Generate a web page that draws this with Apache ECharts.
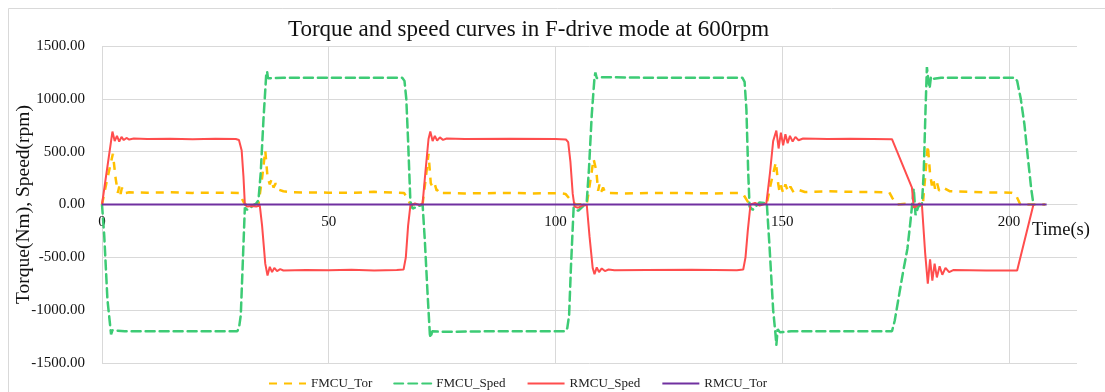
<!DOCTYPE html>
<html><head><meta charset="utf-8">
<script src="https://cdn.jsdelivr.net/npm/echarts@6/dist/echarts.min.js"></script>
<style>html,body{margin:0;padding:0;background:#fff}#c{width:1105px;height:392px}</style>
</head><body><div id="c"></div>
<script>
const titleText = 'Torque and speed curves in F-drive mode at 600rpm';
const seriesNames = ['FMCU_Tor', 'FMCU_Sped', 'RMCU_Sped', 'RMCU_Tor'];
const xTicks = [0, 50, 100, 150, 200];
const yTicks = [-1500, -1000, -500, 0, 500, 1000, 1500];

const fmcuTor = [[0,0],[1.2,250],[2.4,480],[3.0,250],[3.5,110],[3.8,170],[4.1,100],[4.4,160],[4.8,105],[6,115],[10,112],[15,115],[20,110],[25,112],[30.2,110],[30.8,60],[31.5,0],[33,5],[34.5,0],[35.3,250],[36,510],[36.5,260],[37,190],[37.4,240],[37.8,160],[38.3,200],[39,140],[40,125],[42,115],[50,112],[55,110],[60,120],[65,112],[66.6,110],[67.3,60],[68,0],[70.7,5],[71.4,250],[72,480],[72.5,200],[73,160],[73.4,190],[73.8,130],[74.3,150],[75,110],[80,105],[90,110],[95,105],[100.8,108],[102.2,100],[103.6,30],[104.5,0],[106.9,5],[107.6,200],[108.4,430],[109,320],[109.4,130],[109.7,190],[110.1,120],[110.5,160],[111,110],[115,105],[125,110],[135,105],[140.8,110],[141.5,90],[142.8,0],[146.6,10],[147.5,200],[148.6,400],[149.1,200],[149.4,120],[149.7,180],[150.2,110],[150.7,190],[151.3,120],[151.8,170],[152.5,115],[153.5,140],[155,118],[160,125],[165,120],[170,118],[173.6,115],[174.3,60],[175.3,0],[178.5,10],[179.5,-20],[181,0],[181.5,250],[182.1,560],[182.6,290],[183,180],[183.3,240],[183.7,150],[184.1,210],[184.6,130],[185.5,160],[187,125],[195,115],[200.5,112],[201.4,100],[202.5,0],[208,0]];

const fmcuSped = [[0,0],[0.5,-300],[1.2,-900],[2.0,-1230],[2.3,-1190],[2.7,-1205],[5,-1200],[15,-1200],[25,-1200],[29.8,-1200],[30.2,-1170],[30.6,-1050],[31.0,-600],[31.5,-30],[32,-50],[33,-20],[34,10],[34.5,40],[35.0,300],[35.6,800],[36.2,1220],[36.4,1260],[36.6,1195],[37,1210],[40,1200],[50,1200],[60,1200],[66.2,1200],[66.7,1170],[67.1,1000],[67.5,600],[68,30],[68.5,-40],[69.5,-20],[70.7,0],[71.2,-350],[71.8,-850],[72.3,-1230],[72.5,-1260],[72.8,-1200],[75,-1205],[85,-1200],[95,-1200],[102.2,-1200],[102.6,-1170],[103.0,-1050],[103.4,-600],[104,-30],[105,-60],[106,-20],[106.9,30],[107.4,350],[108.0,850],[108.6,1200],[108.8,1250],[109.1,1195],[110,1205],[120,1200],[130,1200],[141.2,1200],[141.7,1160],[142.1,900],[142.5,300],[142.8,-20],[143.5,-50],[145,20],[146.6,10],[147.2,-400],[148,-1000],[148.5,-1220],[148.7,-1330],[149,-1180],[149.5,-1210],[152,-1200],[165,-1200],[174.2,-1200],[174.8,-1100],[175.6,-900],[176.6,-650],[177.6,-420],[178.3,-150],[179,150],[179.4,-100],[180,-20],[180.8,0],[181.2,300],[181.6,900],[181.9,1300],[182.2,1180],[182.5,1100],[182.8,1210],[183.3,1190],[185,1200],[195,1200],[201.3,1200],[201.8,1170],[202.6,1000],[203.4,760],[204.2,430],[204.9,150],[205.4,0]];

const rmcuSped = [[0,0],[2.3,690],[2.8,600],[3.3,650],[3.8,595],[4.3,640],[4.8,610],[5.4,630],[6,615],[7,625],[10,620],[15,622],[20,618],[25,622],[29.5,620],[30.2,610],[30.8,510],[31.2,260],[31.5,0],[32,-20],[33,-15],[34,-20],[34.8,-10],[35.3,-200],[36.0,-560],[36.5,-672],[37.0,-590],[37.5,-640],[38,-600],[38.6,-630],[39.3,-612],[40,-625],[45,-620],[50,-623],[55,-618],[60,-625],[65,-620],[66.5,-615],[67,-500],[67.5,-200],[68,-10],[69,10],[70,-5],[70.7,10],[71.3,300],[72,620],[72.4,690],[72.9,600],[73.4,650],[73.9,605],[74.5,635],[75.2,612],[76,625],[80,620],[90,622],[100,620],[102.3,615],[102.8,590],[103.3,400],[103.8,100],[104.2,-20],[105,-30],[106,-10],[106.9,-5],[107.5,-300],[108.2,-600],[108.6,-660],[109.1,-595],[109.6,-640],[110.2,-605],[110.9,-630],[111.7,-615],[113,-622],[120,-620],[130,-618],[140,-622],[141.4,-615],[141.9,-500],[142.4,-250],[143,0],[144,15],[145,-10],[146.5,10],[147.3,300],[148.0,600],[148.7,700],[149.2,530],[149.7,680],[150.2,560],[150.7,665],[151.2,580],[151.7,650],[152.3,595],[152.9,640],[153.6,608],[154.6,625],[160,620],[165,622],[170,620],[174.2,618],[178.6,160],[179,-30],[179.5,-20],[180.2,10],[180.8,0],[181.5,-450],[182.1,-750],[182.6,-520],[183.1,-720],[183.6,-560],[184.1,-690],[184.7,-585],[185.3,-665],[186,-600],[186.8,-640],[187.7,-620],[195,-625],[201.8,-625],[205.4,0]];

const rmcuTor = [[0,0],[208.3,0]];

const FONT = 'Liberation Serif, Times New Roman, serif';
const chart = echarts.init(document.getElementById('c'), null, {renderer: 'canvas'});
const lineSeries = (name, data, color, width, type, cap) => ({
  name, type: 'line', data, showSymbol: false, symbol: 'none', smooth: false,
  clip: true, animation: false,
  lineStyle: {color, width, type, cap: cap || 'butt'},
  itemStyle: {color}
});
chart.setOption({
  animation: false,
  backgroundColor: '#fff',
  title: {
    text: titleText, left: 283, top: 13,
    textStyle: {fontFamily: FONT, fontSize: 23, fontWeight: 'normal', color: '#111'}
  },
  graphic: [{
    type: 'rect', silent: true,
    shape: {x: 8.5, y: 8.5, width: 1300, height: 600},
    style: {fill: 'none', stroke: '#d9d9d9', lineWidth: 1}
  }],
  legend: {
    data: seriesNames, left: 263, top: 372, itemWidth: 37, itemHeight: 14, itemGap: 21,
    itemStyle: {color: 'rgba(0,0,0,0)', borderWidth: 0, opacity: 0},
    textStyle: {fontFamily: FONT, fontSize: 13, color: '#222'}
  },
  grid: {left: 102, right: 28, top: 46, bottom: 29, containLabel: false, outerBoundsMode: 'none'},
  xAxis: {
    type: 'value', min: 0, max: 215, offset: -159,
    name: 'Time(s)', nameLocation: 'end', nameGap: -45, nameMoveOverlap: false,
    nameTextStyle: {fontFamily: FONT, fontSize: 18.5, color: '#111', verticalAlign: 'top', align: 'left', padding: [17, 0, 0, 0]},
    axisLine: {onZero: false, lineStyle: {color: '#d9d9d9', width: 1}},
    axisTick: {show: false, customValues: xTicks},
    axisLabel: {customValues: xTicks, margin: 11, fontFamily: FONT, fontSize: 15, color: '#111'},
    splitLine: {show: true, lineStyle: {color: '#d9d9d9', width: 1}}
  },
  yAxis: {
    type: 'value', min: yTicks[0], max: yTicks[yTicks.length - 1], interval: 500,
    name: 'Torque(Nm), Speed(rpm)', nameLocation: 'middle', nameGap: 68, nameRotate: 90, nameMoveOverlap: false,
    nameTextStyle: {fontFamily: FONT, fontSize: 19.5, color: '#111'},
    axisLine: {show: false, onZero: false}, axisTick: {show: false},
    axisLabel: {margin: 17, fontFamily: FONT, fontSize: 15, color: '#111', formatter: v => v.toFixed(2)},
    splitLine: {show: true, lineStyle: {color: '#d9d9d9', width: 1}}
  },
  series: [
    lineSeries(seriesNames[0], fmcuTor, '#FFC000', 2.5, [8, 7]),
    lineSeries(seriesNames[1], fmcuSped, '#3DCB75', 2.5, [9, 5], 'round'),
    lineSeries(seriesNames[2], rmcuSped, '#FF4D4D', 2, 'solid'),
    lineSeries(seriesNames[3], rmcuTor, '#7030A0', 2, 'solid')
  ]
});
</script>
</body></html>
